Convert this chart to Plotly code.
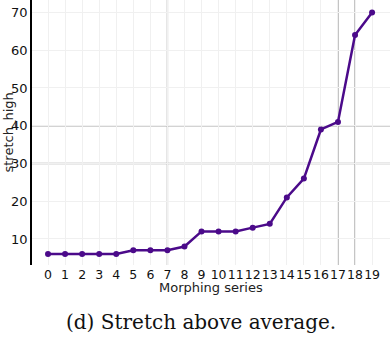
import plotly.graph_objects as go

x_vals = list(range(20))
stretch_high = [6, 6, 6, 6, 6, 7, 7, 7, 8, 12, 12, 12, 13, 14, 21, 26, 39, 41, 64, 70]
y_ticks = [10, 20, 30, 40, 50, 60, 70]
ref_vlines = [7, 17, 18]
ref_hlines = [30, 40]

color = "#4b0a8a"

fig = go.Figure()
fig.add_trace(go.Scatter(
    x=x_vals, y=stretch_high, mode="lines+markers",
    line=dict(color=color, width=2.5),
    marker=dict(color=color, size=6),
    showlegend=False,
))

shapes = []
for v in ref_vlines:
    shapes.append(dict(type="line", xref="x", yref="paper", x0=v, x1=v, y0=0, y1=1,
                       line=dict(color="#a8a8a8", width=1.4), layer="between"))
for h in ref_hlines:
    shapes.append(dict(type="line", xref="paper", yref="y", x0=0, x1=1, y0=h, y1=h,
                       line=dict(color="#a8a8a8", width=1.4), layer="between"))

font = "DejaVu Sans"
fig.update_layout(
    width=390, height=342,
    margin=dict(l=32, r=0, t=0, b=77),
    paper_bgcolor="white", plot_bgcolor="white",
    shapes=shapes,
    font=dict(family=font, size=13, color="#222222"),
    xaxis=dict(
        range=[-0.94, 20.05], tickmode="array", tickvals=x_vals,
        ticktext=[str(v) for v in x_vals], tickangle=0, automargin=False,
        showgrid=True, gridcolor="#f0f0f0", gridwidth=1,
        zeroline=False, showline=False, ticks="",
        tickfont=dict(family=font, size=12.5, color="#111111"),
    ),
    yaxis=dict(
        range=[3.1, 73.3], tickmode="array", tickvals=y_ticks, automargin=False,
        showgrid=True, gridcolor="#f0f0f0", gridwidth=1,
        zeroline=False, showline=True, linecolor="black", linewidth=1.5,
        ticks="", tickfont=dict(family=font, size=13, color="#111111"),
    ),
    annotations=[
        dict(text="Morphing series", xref="paper", yref="paper", x=0.5, y=-0.085,
             showarrow=False, font=dict(family=font, size=13, color="#222222"),
             xanchor="center", yanchor="middle"),
        dict(text="stretch_high", xref="paper", yref="paper", x=-0.067, y=0.5,
             textangle=-90, showarrow=False,
             font=dict(family=font, size=13, color="#222222"),
             xanchor="center", yanchor="middle"),
        dict(text="(d) Stretch above average.", xref="paper", yref="paper",
             x=0.472, y=-0.215, showarrow=False,
             font=dict(family="DejaVu Serif", size=20, color="#111111"),
             xanchor="center", yanchor="middle"),
    ],
)

fig.write_html("out.html", config={"displayModeBar": False},
               post_script="document.body.style.margin='0px';document.body.style.overflow='hidden';")
